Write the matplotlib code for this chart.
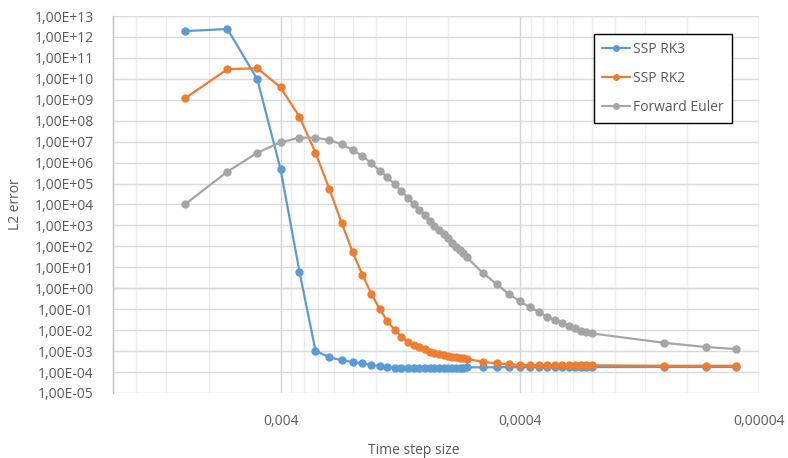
import numpy as np
import matplotlib
matplotlib.use("Agg")
import matplotlib.pyplot as plt
from matplotlib.ticker import (FixedLocator, FixedFormatter, FuncFormatter,
                               NullLocator, NullFormatter)

plt.rcParams['font.family'] = ['Open Sans', 'DejaVu Sans']

# Number of time steps per run; the time step size is 1/N
n_steps = [100, 150, 200, 250, 300, 350, 400, 450, 500, 550, 600, 650, 700, 750,
           800, 850, 900, 950, 1000, 1050, 1100, 1150, 1200, 1250, 1300, 1350,
           1400, 1450, 1500, 1750, 2000, 2250, 2500, 2750, 3000, 3250, 3500,
           3750, 4000, 4250, 4500, 4750, 5000, 10000, 15000, 20000]

err_rk3 = [1.9e12, 2.4e12, 9.4e9, 4.9e5, 6.2, 1.05e-3, 5.0e-4, 3.7e-4, 3.0e-4,
           2.6e-4, 2.2e-4, 1.95e-4, 1.7e-4, 1.6e-4, 1.55e-4, 1.5e-4, 1.5e-4,
           1.5e-4, 1.5e-4, 1.5e-4, 1.52e-4, 1.55e-4, 1.55e-4, 1.6e-4, 1.6e-4,
           1.62e-4, 1.65e-4, 1.65e-4, 1.68e-4, 1.68e-4, 1.7e-4, 1.7e-4, 1.72e-4,
           1.72e-4, 1.72e-4, 1.72e-4, 1.72e-4, 1.72e-4, 1.72e-4, 1.72e-4,
           1.72e-4, 1.72e-4, 1.72e-4, 1.75e-4, 1.75e-4, 1.75e-4]

err_rk2 = [1.2e9, 2.9e10, 3.2e10, 3.9e9, 1.55e8, 2.95e6, 5.5e4, 1.35e3, 55.0,
           4.3, 0.53, 0.10, 0.026, 0.0105, 4.8e-3, 2.8e-3, 1.95e-3, 1.55e-3,
           1.2e-3, 9.5e-4, 8.0e-4, 7.0e-4, 6.5e-4, 6.0e-4, 5.5e-4, 5.1e-4,
           4.8e-4, 4.5e-4, 4.3e-4, 3.1e-4, 2.6e-4, 2.35e-4, 2.2e-4, 2.15e-4,
           2.1e-4, 2.1e-4, 2.1e-4, 2.1e-4, 2.1e-4, 2.1e-4, 2.1e-4, 2.1e-4,
           2.1e-4, 2.0e-4, 2.0e-4, 2.0e-4]

err_euler = [1.05e4, 3.7e5, 2.95e6, 9.3e6, 1.55e7, 1.55e7, 1.2e7, 7.5e6, 4.0e6,
             2.06e6, 9.2e5, 4.1e5, 1.98e5, 9.2e4, 4.4e4, 2.1e4, 1.05e4, 5.4e3,
             3.1e3, 1.67e3, 9.4e2, 6.0e2, 3.76e2, 2.42e2, 1.49e2, 96.0, 67.0,
             46.0, 30.0, 5.5, 1.58, 0.53, 0.245, 0.123, 0.076, 0.044, 0.030,
             0.021, 0.0158, 0.0122, 0.0094, 0.0079, 0.0070, 2.5e-3, 1.56e-3,
             1.26e-3]

series_names = ["SSP RK3", "SSP RK2", "Forward Euler"]
series_colors = ["#5B9BD5", "#ED7D31", "#A5A5A5"]

x_ticks = [0.004, 0.0004, 0.00004]
x_tick_labels = ["0,004", "0,0004", "0,00004"]

dt = 1.0 / np.array(n_steps, dtype=float)

fig = plt.figure(figsize=(7.88, 4.58), dpi=100)
ax = fig.add_axes([113.3 / 788, 1 - 393 / 458, (759 - 113.3) / 788, (393 - 16) / 458])

for vals, name, col in zip([err_rk3, err_rk2, err_euler], series_names, series_colors):
    ax.plot(dt, vals, color=col, lw=1.6, marker='o', ms=5, label=name,
            solid_capstyle='round', zorder=3)

ax.set_xscale('log')
ax.set_yscale('log')
ax.set_xlim(0.02, 0.00004)
ax.set_ylim(1e-5, 1e13)

# Axis ticks and grid
ax.xaxis.set_major_locator(FixedLocator(x_ticks))
ax.xaxis.set_major_formatter(FixedFormatter(x_tick_labels))
minor_x = [k * b for b in (4e-5, 4e-4, 4e-3) for k in range(2, 10) if k * b <= 0.02]
ax.xaxis.set_minor_locator(FixedLocator(minor_x))
ax.xaxis.set_minor_formatter(NullFormatter())

ax.yaxis.set_major_locator(FixedLocator([10.0 ** e for e in range(-5, 14)]))
ax.yaxis.set_minor_locator(NullLocator())
ax.yaxis.set_major_formatter(FuncFormatter(lambda v, p: f"{v:.2E}".replace('.', ',')))

ax.grid(True, which='major', axis='y', color='#D9D9D9', lw=1, zorder=0)
ax.grid(True, which='major', axis='x', color='#D3D3D3', lw=1, zorder=0)
ax.grid(True, which='minor', axis='x', color='#EDEDED', lw=1, zorder=0)
ax.axhline(1.0, color='#C8C8C8', lw=1, zorder=1)

for side in ['top', 'right', 'bottom']:
    ax.spines[side].set_visible(False)
ax.spines['left'].set_color('#BFBFBF')
ax.spines['left'].set_linewidth(1)

ax.tick_params(axis='both', which='both', length=0, labelsize=10, labelcolor='#595959')
ax.tick_params(axis='y', pad=14)
ax.tick_params(axis='x', pad=15)

fig.text(16 / 788, 1 - 204 / 458, "L2 error", rotation=90, ha='center', va='center',
         fontsize=10, color='#595959')
fig.text(414 / 788, 1 - 450 / 458, "Time step size", ha='center', va='center',
         fontsize=10, color='#595959')

leg = ax.legend(loc='upper left', bbox_to_anchor=((594 - 113.3) / 645.7, (393 - 34) / 377),
                frameon=True, fancybox=False, fontsize=10, labelcolor='#595959',
                handlelength=2.0, handletextpad=0.2, labelspacing=1.0,
                borderpad=0.6, markerscale=0.8, borderaxespad=0)
leg.get_frame().set_edgecolor('black')
leg.get_frame().set_linewidth(1)
leg.get_frame().set_facecolor('white')
leg.get_frame().set_alpha(1)

fig.savefig("out.png", dpi=100)
